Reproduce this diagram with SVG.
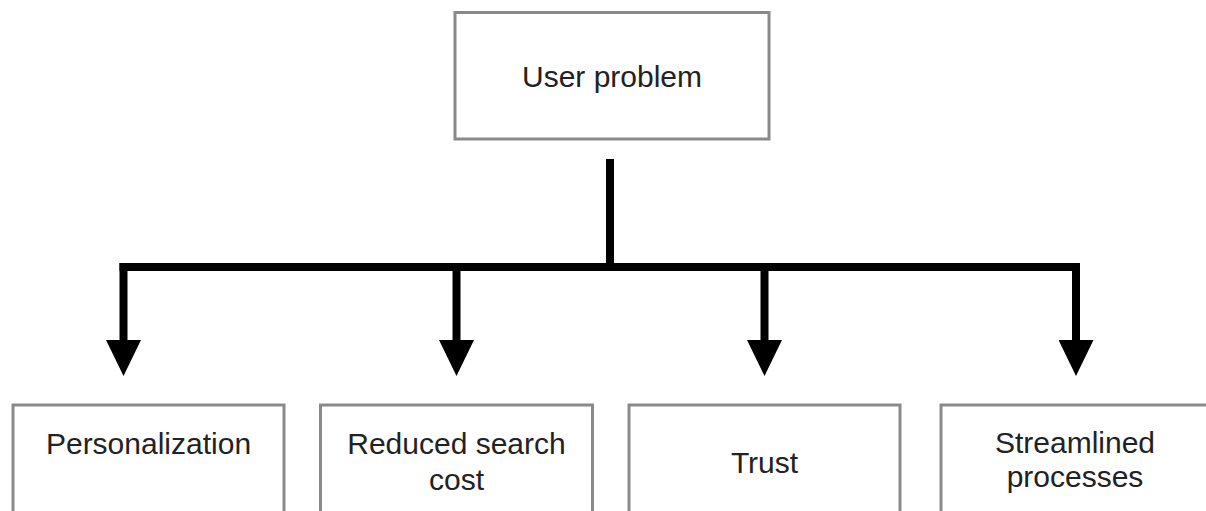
<svg xmlns="http://www.w3.org/2000/svg" width="1206" height="511" viewBox="0 0 1206 511">
  <style>
    .box { fill: #ffffff; stroke: #8a8a8a; stroke-width: 3; }
    .lbl { font-family: "Liberation Sans", Arial, Helvetica, sans-serif; font-size: 30px; fill: #222222; text-anchor: middle; }
    .conn { fill: none; stroke: #000000; stroke-width: 8; }
  </style>
  <defs>
    <marker id="arrow" markerUnits="userSpaceOnUse" viewBox="0 0 36 35" refX="0" refY="17.5" markerWidth="36" markerHeight="35" orient="auto">
      <path d="M0,0 L36,17.5 L0,35 Z" fill="#000000"/>
    </marker>
  </defs>
  <rect width="1206" height="511" fill="#ffffff"/>

  <g id="connectors">
    <path class="conn" d="M610 159 V267"/>
    <path class="conn" d="M119.5 267 H1080"/>
    <path class="conn" d="M123.5 263 V340" marker-end="url(#arrow)"/>
    <path class="conn" d="M456.5 263 V340" marker-end="url(#arrow)"/>
    <path class="conn" d="M764.5 263 V340" marker-end="url(#arrow)"/>
    <path class="conn" d="M1076 263 V340" marker-end="url(#arrow)"/>
  </g>

  <g id="node-user-problem">
    <rect class="box" x="455" y="12.5" width="314" height="126.5"/>
    <text class="lbl" x="612" y="87">User problem</text>
  </g>

  <g id="node-personalization">
    <rect class="box" x="13" y="405" width="271" height="130"/>
    <text class="lbl" x="148.5" y="454">Personalization</text>
  </g>

  <g id="node-reduced-search-cost">
    <rect class="box" x="320.5" y="405" width="272" height="130"/>
    <text class="lbl" x="456.5" y="454">Reduced search</text>
    <text class="lbl" x="456.5" y="490">cost</text>
  </g>

  <g id="node-trust">
    <rect class="box" x="629" y="405" width="271" height="130"/>
    <text class="lbl" x="764.5" y="473">Trust</text>
  </g>

  <g id="node-streamlined-processes">
    <rect class="box" x="941" y="405" width="271" height="130"/>
    <text class="lbl" x="1075" y="453">Streamlined</text>
    <text class="lbl" x="1075" y="487">processes</text>
  </g>
</svg>
